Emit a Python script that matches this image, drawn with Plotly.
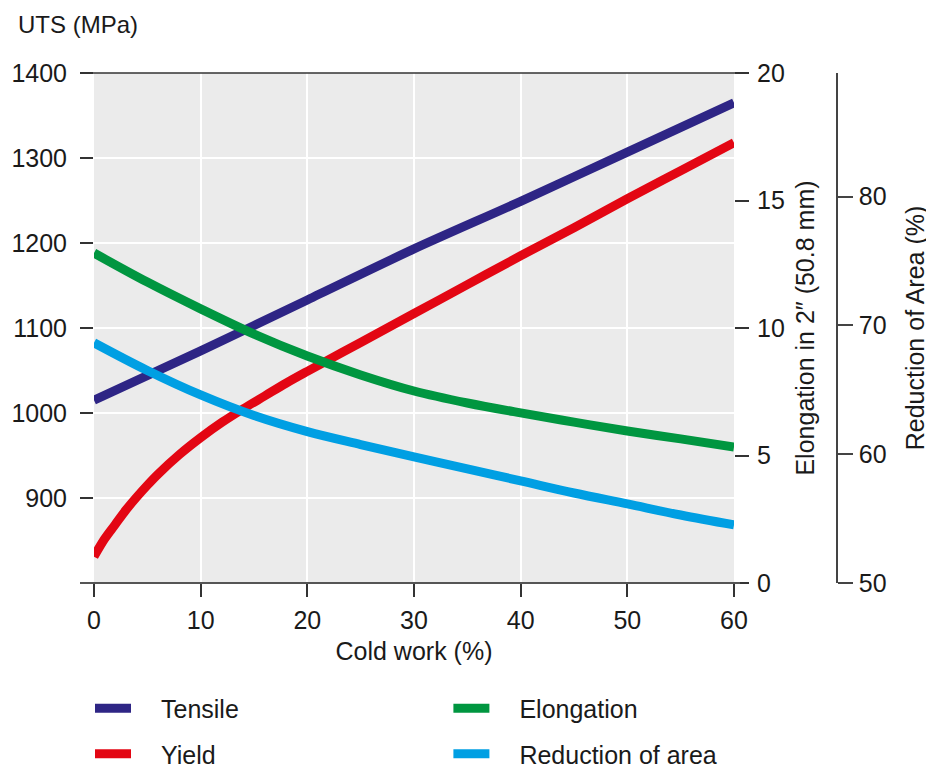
import plotly.graph_objects as go

# ---- data ----
tensile_x = [0, 10, 20, 30, 40, 50, 60]
tensile = [1015, 1073, 1133, 1193, 1249, 1307, 1365]

yield_x = [0, 1, 2, 3, 4, 5, 6, 8, 10, 12, 14, 16, 18, 20, 25, 30, 35, 40, 45, 50, 55, 60]
yield_s = [831, 852, 869, 886, 901, 915, 928, 951, 971, 989, 1005, 1020, 1035, 1049,
           1083, 1117, 1151, 1185, 1218, 1252, 1285, 1318]

elong_x = [0, 5, 10, 15, 20, 25, 30, 35, 40, 45, 50, 55, 60]
elongation = [12.94, 11.80, 10.75, 9.76, 8.90, 8.16, 7.53, 7.06, 6.67, 6.31, 5.96, 5.65, 5.33]
reduction = [68.65, 66.50, 64.60, 63.00, 61.75, 60.75, 59.80, 58.86, 57.93, 56.99, 56.14, 55.28, 54.51]

x_ticks = [0, 10, 20, 30, 40, 50, 60]
uts_ticks = [900, 1000, 1100, 1200, 1300, 1400]
elong_ticks = [0, 5, 10, 15, 20]
red_ticks = [50, 60, 70, 80]

C_T = "#2E2585"
C_Y = "#E30613"
C_E = "#009640"
C_R = "#009FE3"
FONT = "Liberation Sans, Arial, sans-serif"
TXT = "#1a1a1a"
FS = 25
LW = 9

fig = go.Figure()
fig.add_trace(go.Scatter(x=tensile_x, y=tensile, mode="lines", name="\u2003Tensile",
                         line=dict(color=C_T, width=LW, shape="spline", smoothing=0.8),
                         legend="legend", legendgroup="t"))
fig.add_trace(go.Scatter(x=yield_x, y=yield_s, mode="lines", name="\u2003Yield",
                         line=dict(color=C_Y, width=LW, shape="spline", smoothing=1.0),
                         legend="legend", legendgroup="y"))
fig.add_trace(go.Scatter(x=elong_x, y=elongation, mode="lines", name="\u2003Elongation",
                         line=dict(color=C_E, width=LW, shape="spline", smoothing=1.0),
                         yaxis="y2", legend="legend2", legendgroup="e"))
fig.add_trace(go.Scatter(x=elong_x, y=reduction, mode="lines", name="\u2003Reduction of area",
                         line=dict(color=C_R, width=LW, shape="spline", smoothing=1.0),
                         yaxis="y3", legend="legend2", legendgroup="r"))

tickfont = dict(family=FONT, size=FS, color=TXT)

fig.update_layout(
    width=934, height=769,
    margin=dict(l=86, r=48, t=65, b=194, autoexpand=False),
    paper_bgcolor="white",
    plot_bgcolor="#EBEBEB",
    font=dict(family=FONT, size=FS, color=TXT),
    xaxis=dict(range=[0, 60], domain=[0, 0.8], tickvals=x_ticks,
               showgrid=True, gridcolor="white", gridwidth=1.5, zeroline=False,
               ticks="outside", ticklen=13, tickwidth=1.5, tickcolor="#333",
               showline=False, tickfont=tickfont, ticklabelstandoff=2,
               title=dict(text="Cold work (%)", font=tickfont, standoff=9)),
    yaxis=dict(range=[800, 1400], tickvals=uts_ticks,
               showgrid=True, gridcolor="white", gridwidth=1.5, zeroline=False,
               ticks="outside", ticklen=13, tickwidth=1.5, tickcolor="#333",
               showline=False, tickfont=tickfont, ticklabelstandoff=8),
    yaxis2=dict(range=[0, 20], tickvals=elong_ticks, overlaying="y", side="right",
                anchor="x", showgrid=False, zeroline=False,
                ticks="outside", ticklen=14, tickwidth=1.5, tickcolor="#333",
                showline=False, tickfont=tickfont, ticklabelstandoff=3,
                title=dict(text="Elongation in 2\u2033 (50.8 mm)", font=tickfont, standoff=12)),
    yaxis3=dict(range=[50, 89.6], tickvals=red_ticks, overlaying="y", side="right",
                anchor="free", position=0.92875, showgrid=False, zeroline=False,
                ticks="outside", ticklen=15, tickwidth=1.5, tickcolor="#444",
                showline=True, linecolor="#444", linewidth=1.5,
                tickfont=tickfont, ticklabelstandoff=1,
                title=dict(text="Reduction of Area (%)", font=tickfont, standoff=20)),
    legend=dict(x=-0.005, y=-0.201, xanchor="left", yanchor="top",
                orientation="v", traceorder="grouped", tracegroupgap=10, itemwidth=36,
                font=dict(family=FONT, size=FS, color=TXT), bgcolor="rgba(0,0,0,0)"),
    legend2=dict(x=0.443, y=-0.201, xanchor="left", yanchor="top",
                 orientation="v", traceorder="grouped", tracegroupgap=10, itemwidth=36,
                 font=dict(family=FONT, size=FS, color=TXT), bgcolor="rgba(0,0,0,0)"),
    showlegend=True,
    annotations=[dict(text="UTS (MPa)", x=-0.098, y=1.096, xref="paper", yref="paper",
                      xanchor="left", yanchor="middle", showarrow=False,
                      font=dict(family=FONT, size=24, color=TXT))],
    shapes=[
        dict(type="line", xref="paper", yref="paper", x0=-0.0175, x1=0.814, y0=1, y1=1,
             line=dict(color="#333", width=1.5)),
        dict(type="line", xref="paper", yref="paper", x0=-0.0175, x1=0.8075, y0=0, y1=0,
             line=dict(color="#555", width=2)),
    ],
)

fig.write_html("out.html")
